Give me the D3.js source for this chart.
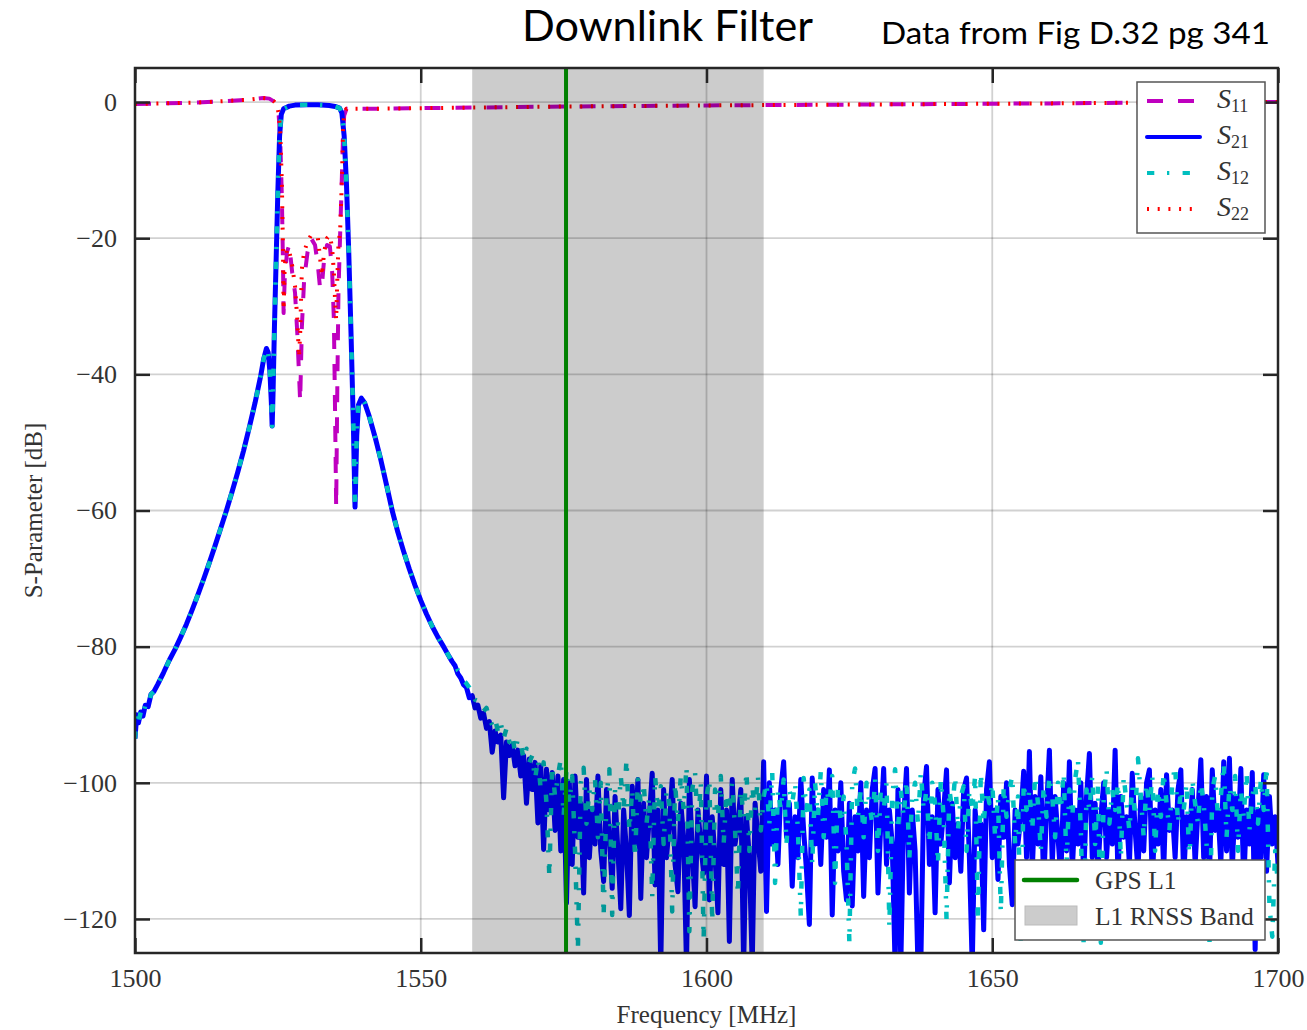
<!DOCTYPE html>
<html>
<head>
<meta charset="utf-8">
<script src="https://cdn.jsdelivr.net/npm/d3@7"></script>
<style>
    body { margin: 0; background: #fff; }
    svg { display: block; }
    .axis text { font-family: "Liberation Serif", "DejaVu Serif", serif; font-size: 26px; fill: #333; }
    .axis line { stroke: #262626; stroke-width: 2.5; }
    .axis path { display: none; }
    .lbl { font-family: "Liberation Serif", "DejaVu Serif", serif; fill: #333; }
</style>
</head>
<body>
<svg></svg>
<script>
// ticks and markers
var xTicks = [1500, 1550, 1600, 1650, 1700];
var yTicks = [-120, -100, -80, -60, -40, -20, 0];
var rnssBand = [1559, 1610];
var gpsL1 = 1575.42;

// S21 / S12 filter skirts, MHz and dB
var skirtFreq = [1500, 1500.3, 1500.6, 1501, 1501.4, 1501.8, 1502.3, 1502.8, 1503.3, 1504,
    1505, 1506, 1507, 1508, 1509, 1510, 1511, 1512, 1513, 1514, 1515, 1516, 1517, 1518, 1519,
    1520, 1521, 1522, 1522.5, 1523, 1523.3, 1523.6, 1523.85, 1524, 1524.15, 1524.4, 1524.7,
    1525, 1525.3, 1525.6, 1526, 1527, 1528, 1530, 1532, 1534, 1535, 1535.8, 1536.2, 1536.6,
    1537, 1537.4, 1537.8, 1538.2, 1538.5, 1538.8, 1539.1, 1539.6, 1540.2, 1541, 1542, 1543,
    1544, 1545, 1546, 1547, 1548, 1549, 1550, 1551, 1552, 1553, 1554, 1555, 1555.5];
var skirtDb = [-93.5, -90.0, -91.2, -89.6, -90.2, -88.6, -88.8, -87.0, -86.6, -85.5,
    -83.8, -82.0, -80.4, -78.6, -76.7, -74.6, -72.4, -70.1, -67.7, -65.2, -62.6, -60.0, -57.2, -54.3, -51.2,
    -47.8, -44.2, -40.2, -37.8, -36.2, -36.8, -39.5, -44.0, -47.6, -43.0, -33.0, -23.0,
    -13.0, -5.0, -1.8, -1.0, -0.6, -0.45, -0.4, -0.4, -0.5, -0.65, -0.9, -1.6, -5.0,
    -12.0, -22.0, -34.0, -47.0, -59.5, -49.0, -44.5, -43.5, -44.2, -46.2, -49.2, -52.5,
    -56.2, -60.0, -63.2, -66.0, -68.6, -71.0, -73.2, -75.2, -77.0, -78.6, -80.0, -81.5, -82.2];

// noise floor, one value every 0.5 MHz from 1556 MHz
var noiseStart = 1556, noiseStep = 0.5;
var s21Noise = [
    -82.8, -84.0, -84.6, -85.6, -86.0, -87.5, -87.2, -89.0, -88.6, -90.5, -89.8, -92.0, -91.0, -95.5, -92.4, -94.0, -93.0, -102.2, -94.0, -96.0,
    -94.5, -97.5, -95.2, -99.0, -96.0, -103.0, -96.5, -101.0, -97.0, -105.9, -97.5, -109.8, -98.0, -104.0, -98.5, -107.0, -99.0, -110.0, -99.5, -117.7,
    -100.0, -112.0, -99.0, -108.0, -103.0, -116.2, -99.5, -111.0, -104.0, -109.0, -99.0, -110.0, -114.5, -101.0, -108.0, -115.5, -102.0, -110.0, -118.5, -104.0,
    -110.0, -119.5, -100.5, -109.0, -99.5, -117.0, -103.0, -111.0, -105.0, -98.6, -115.0, -104.0, -127.0, -101.0, -111.0, -106.0, -99.5, -112.0, -116.0, -103.0,
    -108.0, -127.0, -99.5, -110.0, -118.2, -104.0, -109.0, -113.3, -99.0, -117.2, -105.0, -111.0, -119.1, -101.0, -112.0, -104.0, -123.3, -99.5, -109.0, -106.0,
    -101.0, -127.0, -105.0, -111.0, -127.0, -103.0, -108.0, -113.0, -96.9, -118.9, -100.0, -109.0, -104.0, -112.0, -101.0, -96.9, -108.0, -103.0, -115.2, -105.0,
    -111.0, -99.5, -107.0, -113.0, -120.8, -99.3, -109.0, -104.0, -112.0, -101.0, -108.0, -98.1, -119.4, -104.0, -110.0, -100.0, -113.0, -117.2, -103.0, -118.1,
    -105.0, -110.0, -100.0, -116.7, -104.0, -111.0, -101.0, -97.9, -116.2, -106.0, -97.9, -112.0, -104.0, -109.0, -127.0, -101.0, -127.0, -105.0, -97.9, -116.2,
    -104.0, -110.0, -127.0, -127.0, -102.0, -97.6, -112.0, -105.0, -119.1, -101.0, -109.0, -104.0, -98.1, -114.7, -103.0, -111.0, -106.0, -113.0, -101.0, -99.3,
    -111.0, -127.0, -104.0, -109.0, -106.0, -121.6, -101.0, -96.9, -111.0, -104.0, -114.2, -102.0, -108.0, -100.0, -112.0, -117.9, -104.0, -109.0, -105.0, -98.3,
    -111.0, -95.4, -113.0, -102.0, -109.0, -99.1, -115.0, -104.0, -95.2, -112.0, -102.0, -108.0, -114.0, -100.0, -110.0, -96.9, -113.0, -104.0, -109.0, -100.0,
    -114.0, -102.0, -95.7, -111.0, -103.0, -113.0, -105.0, -100.0, -111.0, -104.0, -109.0, -95.2, -114.0, -102.0, -108.0, -105.0, -112.0, -98.6, -107.0, -113.0,
    -102.0, -110.0, -100.0, -98.1, -115.0, -104.0, -109.0, -101.0, -113.0, -98.8, -107.0, -104.0, -111.0, -101.0, -98.1, -114.0, -105.0, -109.0, -101.0, -112.0,
    -104.0, -96.6, -111.0, -102.0, -114.0, -98.1, -107.0, -104.0, -112.0, -96.9, -110.0, -96.4, -113.0, -102.0, -108.0, -97.9, -115.0, -104.0, -109.0, -98.5,
    -124.5, -104.0, -111.0, -98.8, -113.0, -102.0, -109.0, -105.0, -112.0];
var s12Noise = [
    -82.4, -83.5, -84.0, -85.0, -85.4, -86.0, -86.8, -87.8, -88.0, -88.6, -89.5, -89.0, -90.6, -91.5, -90.5, -92.5, -91.2, -93.5, -92.0, -94.0,
    -93.0, -95.5, -93.5, -94.2, -96.5, -95.0, -97.0, -96.0, -99.5, -96.5, -101.0, -97.0, -103.0, -113.7, -97.5, -102.0, -99.0, -96.5, -105.0, -98.0,
    -103.0, -99.0, -110.0, -124.5, -100.0, -97.8, -106.0, -101.0, -104.0, -99.5, -108.0, -100.0, -119.6, -102.0, -98.0, -119.4, -101.0, -106.0, -99.0, -104.0,
    -96.6, -107.0, -101.0, -111.0, -99.5, -103.0, -100.0, -106.0, -102.0, -116.7, -99.0, -104.0, -100.5, -109.0, -101.0, -103.0, -118.9, -100.0, -106.0, -99.0,
    -104.0, -97.6, -121.8, -101.0, -98.5, -107.0, -100.0, -123.0, -102.0, -99.5, -120.4, -101.0, -105.0, -99.0, -109.0, -101.5, -104.0, -100.0, -107.0, -116.5,
    -101.0, -105.0, -98.3, -110.0, -100.5, -104.0, -99.0, -107.0, -102.0, -100.0, -106.0, -98.5, -114.7, -101.0, -104.0, -99.5, -109.0, -101.0, -103.0, -100.0,
    -107.0, -119.6, -99.3, -104.0, -101.0, -112.0, -100.0, -105.0, -98.3, -108.0, -101.0, -103.0, -99.0, -114.7, -100.5, -106.0, -102.0, -109.0, -123.5, -100.0,
    -97.9, -105.0, -101.0, -108.0, -100.0, -103.0, -106.0, -99.5, -110.0, -101.0, -104.0, -100.0, -121.1, -102.0, -98.0, -107.0, -101.0, -105.0, -99.5, -111.0,
    -102.0, -100.0, -106.0, -98.5, -104.0, -101.0, -109.0, -100.0, -103.0, -112.0, -99.5, -105.0, -120.1, -101.0, -104.0, -99.0, -107.0, -102.0, -100.5, -110.0,
    -101.0, -104.0, -99.0, -120.0, -98.5, -106.0, -101.0, -103.0, -100.0, -108.0, -102.0, -119.1, -100.5, -105.0, -101.0, -99.0, -109.0, -102.0, -124.0, -100.0,
    -104.0, -101.0, -107.0, -99.0, -103.0, -110.0, -100.5, -105.0, -99.0, -102.0, -108.0, -100.0, -104.0, -98.5, -112.0, -101.0, -105.0, -99.5, -96.6, -107.0,
    -124.0, -101.0, -104.0, -99.0, -109.0, -100.5, -123.5, -102.0, -98.0, -106.0, -101.0, -104.0, -100.0, -111.0, -99.0, -103.0, -107.0, -100.5, -105.0, -96.4,
    -102.0, -108.0, -100.0, -104.0, -99.0, -110.0, -101.0, -105.0, -98.5, -103.0, -107.0, -100.0, -97.5, -106.0, -101.0, -104.0, -100.0, -112.0, -99.5, -103.0,
    -106.0, -100.0, -103.0, -109.0, -124.0, -101.0, -99.0, -105.0, -102.0, -97.1, -108.0, -100.5, -104.0, -99.0, -110.0, -101.0, -105.0, -98.5, -107.0, -102.0,
    -100.0, -106.0, -99.5, -104.0, -97.6, -118.0, -122.6, -110.0, -115.0];

// reflection S11 / S22
var reflFreq = [1500, 1505, 1510, 1515, 1520, 1522.4, 1523.5, 1524.3, 1524.8, 1525.1, 1525.4, 1525.7,
    1525.9, 1526.0, 1526.2, 1526.6, 1527.0, 1527.5, 1528.0, 1528.4, 1528.7, 1528.9, 1529.2, 1529.6,
    1530.2, 1530.8, 1531.5, 1532.0, 1532.4, 1532.7, 1533.1, 1533.6, 1534.1, 1534.5, 1534.8, 1535.0,
    1535.2, 1535.4, 1535.6, 1535.9, 1536.2, 1536.4, 1536.6, 1537.0, 1540, 1550, 1570, 1600, 1630,
    1660, 1680, 1700];
var s11Db = [-0.3, -0.2, -0.1, 0.1, 0.35, 0.6, 0.5, 0.1, -0.4, -1.5, -5, -14,
    -24, -31, -26, -22, -21, -25, -28, -34, -40, -44, -33, -26,
    -22, -20, -21, -24, -27.5, -27, -23, -21, -21.2, -25, -32, -45,
    -59.5, -42, -28, -19.3, -11, -5, -2, -1.0, -1.0, -0.9, -0.7, -0.5, -0.35,
    -0.2, -0.05, 0.0];
var s22Db = [-0.3, -0.2, -0.1, 0.1, 0.35, 0.6, 0.5, 0.1, -0.4, -1.5, -4, -12,
    -22, -30.5, -24, -21.5, -22, -24, -27, -32, -37.5, -34, -24.5, -22,
    -20.5, -19.6, -19.6, -20, -23, -25.5, -22, -20, -19.6, -21.5, -25, -29,
    -32, -26, -21, -18.8, -11.5, -4.2, -1.5, -1.0, -1.0, -0.9, -0.7, -0.5, -0.35,
    -0.2, -0.05, 0.0];

var svg = d3.select("svg").attr("width", 1307).attr("height", 1030),
    margin = {top: 68, right: 29, bottom: 77, left: 135},
    width = 1307 - margin.left - margin.right,
    height = 1030 - margin.top - margin.bottom;

var x = d3.scaleLinear().domain([1500, 1700]).range([0, width]),
    y = d3.scaleLinear().domain([-125, 5]).range([height, 0]);

var g = svg.append("g")
    .attr("transform", "translate(" + margin.left + "," + margin.top + ")");

g.append("clipPath").attr("id", "plot-clip")
    .append("rect").attr("width", width).attr("height", height);

// grid
g.selectAll(".gx").data(xTicks).enter().append("line")
    .attr("x1", function (d) { return x(d); }).attr("x2", function (d) { return x(d); })
    .attr("y1", 0).attr("y2", height)
    .attr("stroke", "rgba(0,0,0,0.18)").attr("stroke-width", 1.8);
g.selectAll(".gy").data(yTicks).enter().append("line")
    .attr("x1", 0).attr("x2", width)
    .attr("y1", function (d) { return y(d); }).attr("y2", function (d) { return y(d); })
    .attr("stroke", "rgba(0,0,0,0.18)").attr("stroke-width", 1.8);

function pairs(fs, vs) {
    return fs.map(function (f, i) { return {f: f, v: vs[i]}; });
}
function withNoise(noise) {
    return pairs(skirtFreq, skirtDb).concat(noise.map(function (v, i) {
        return {f: noiseStart + i * noiseStep, v: v};
    }));
}

var line = d3.line()
    .x(function (d) { return x(d.f); })
    .y(function (d) { return y(d.v); });

var series = [
    {name: "11", data: pairs(reflFreq, s11Db), color: "#bf00bf", width: 4, plotWidth: 4, dash: "16,15"},
    {name: "21", data: withNoise(s21Noise), color: "#0000ff", width: 4, plotWidth: 5, dash: null},
    {name: "12", data: withNoise(s12Noise), color: "#00bfbf", width: 4, plotWidth: 4.5, dash: "7.3,12.7,2.3,13.3"},
    {name: "22", data: pairs(reflFreq, s22Db), color: "#ff0000", width: 4, plotWidth: 4, dash: "2,8.7"}
];

var plot = g.append("g").attr("clip-path", "url(#plot-clip)");
series.forEach(function (s) {
    plot.append("path")
        .datum(s.data)
        .attr("d", line)
        .attr("fill", "none")
        .attr("stroke", s.color)
        .attr("stroke-width", s.plotWidth)
        .attr("stroke-linejoin", "round")
        .attr("stroke-dasharray", s.dash);
});

// L1 RNSS band and GPS L1
plot.append("rect")
    .attr("x", x(rnssBand[0])).attr("width", x(rnssBand[1]) - x(rnssBand[0]))
    .attr("y", 0).attr("height", height)
    .attr("fill", "rgba(0,0,0,0.2)");
plot.append("line")
    .attr("x1", x(gpsL1)).attr("x2", x(gpsL1))
    .attr("y1", 0).attr("y2", height)
    .attr("stroke", "#008000").attr("stroke-width", 4);

// axes, ticks pointing inwards
g.append("g").attr("class", "axis")
    .attr("transform", "translate(0," + height + ")")
    .call(d3.axisBottom(x).tickValues(xTicks).tickSize(-15).tickPadding(16).tickFormat(d3.format("d")));
g.append("g").attr("class", "axis")
    .call(d3.axisTop(x).tickValues(xTicks).tickSize(-15).tickFormat(""));
g.append("g").attr("class", "axis")
    .call(d3.axisLeft(y).tickValues(yTicks).tickSize(-15).tickPadding(18));
g.append("g").attr("class", "axis")
    .attr("transform", "translate(" + width + ",0)")
    .call(d3.axisRight(y).tickValues(yTicks).tickSize(-15).tickFormat(""));

g.append("rect")
    .attr("width", width).attr("height", height)
    .attr("fill", "none").attr("stroke", "#262626").attr("stroke-width", 2.5);

// axis labels
svg.append("text").attr("class", "lbl")
    .attr("x", margin.left + width / 2).attr("y", 1023)
    .attr("text-anchor", "middle").attr("font-size", 25)
    .text("Frequency [MHz]");
svg.append("text").attr("class", "lbl")
    .attr("transform", "translate(42," + (margin.top + height / 2) + ") rotate(-90)")
    .attr("text-anchor", "middle").attr("font-size", 25)
    .text("S-Parameter [dB]");

// titles
svg.append("text")
    .attr("x", 522).attr("y", 41)
    .attr("font-family", "Lato, 'Open Sans', sans-serif").attr("font-size", 43)
    .attr("textLength", 291).attr("lengthAdjust", "spacingAndGlyphs")
    .attr("fill", "#000")
    .text("Downlink Filter");
svg.append("text")
    .attr("x", 881).attr("y", 44)
    .attr("font-family", "Lato, 'Open Sans', sans-serif").attr("font-size", 31)
    .attr("textLength", 389).attr("lengthAdjust", "spacingAndGlyphs")
    .attr("fill", "#000")
    .text("Data from Fig D.32 pg 341");

// legend for the S-parameters
var leg = svg.append("g").attr("transform", "translate(1137,82)");
leg.append("rect").attr("width", 128).attr("height", 151)
    .attr("fill", "#fff").attr("stroke", "#555").attr("stroke-width", 1.5);
series.forEach(function (s, i) {
    var ly = 19 + i * 36;
    leg.append("line")
        .attr("x1", 10).attr("x2", 63).attr("y1", ly).attr("y2", ly)
        .attr("stroke", s.color).attr("stroke-width", s.width)
        .attr("stroke-linecap", s.dash ? "butt" : "round")
        .attr("stroke-dasharray", s.dash);
    var t = leg.append("text").attr("class", "lbl")
        .attr("x", 80).attr("y", ly + 7).attr("font-size", 28);
    t.append("tspan").attr("font-style", "italic").text("S");
    t.append("tspan").attr("dy", 4).attr("font-size", 18).text(s.name);
});

// legend for the band and GPS L1
var leg2 = svg.append("g").attr("transform", "translate(1015,860)");
leg2.append("rect").attr("width", 250).attr("height", 80)
    .attr("fill", "#fff").attr("stroke", "#555").attr("stroke-width", 1.5);
leg2.append("line")
    .attr("x1", 9).attr("x2", 62).attr("y1", 20).attr("y2", 20)
    .attr("stroke", "#008000").attr("stroke-width", 4.5).attr("stroke-linecap", "round");
leg2.append("rect")
    .attr("x", 10).attr("y", 46).attr("width", 52).attr("height", 19)
    .attr("fill", "#cccccc").attr("stroke", "#bbb").attr("stroke-width", 1);
leg2.append("text").attr("class", "lbl")
    .attr("x", 80).attr("y", 29).attr("font-size", 25.5).text("GPS L1");
leg2.append("text").attr("class", "lbl")
    .attr("x", 80).attr("y", 65).attr("font-size", 25.5).text("L1 RNSS Band");
</script>
</body>
</html>
